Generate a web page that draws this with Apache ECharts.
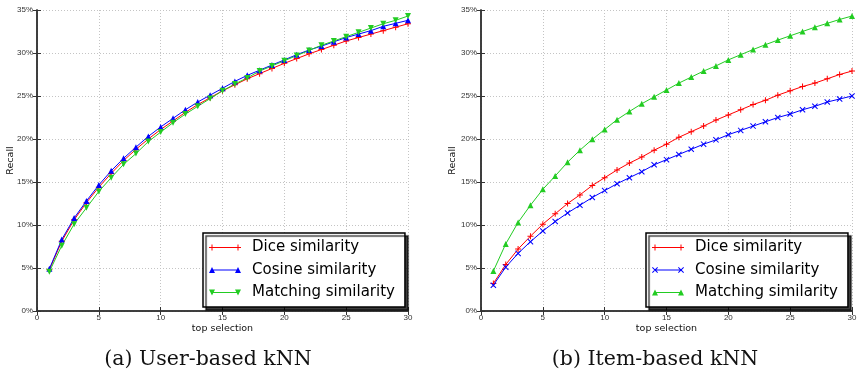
<!DOCTYPE html>
<html>
<head>
<meta charset="utf-8">
<script src="https://cdn.jsdelivr.net/npm/echarts@6/dist/echarts.min.js"></script>
<style>
  html, body { margin: 0; padding: 0; background: #fff; }
  #user-chart { position: absolute; left: 0; top: 0; width: 440px; height: 374px; }
  #item-chart { position: absolute; left: 440px; top: 0; width: 421px; height: 374px; }
</style>
</head>
<body>
<div id="user-chart"></div>
<div id="item-chart"></div>
<script>
const topSelection = [1, 2, 3, 4, 5, 6, 7, 8, 9, 10, 11, 12, 13, 14, 15, 16, 17, 18, 19, 20, 21, 22, 23, 24, 25, 26, 27, 28, 29, 30];
const xTicks = [0, 5, 10, 15, 20, 25, 30];
const yTicks = [0, 5, 10, 15, 20, 25, 30, 35];

// (a) user-based kNN, recall in %
const userDice = [4.8, 8.1, 10.6, 12.6, 14.4, 16.0, 17.5, 18.8, 20.0, 21.1, 22.1, 23.1, 24.0, 24.8, 25.6, 26.3, 27.0, 27.6, 28.2, 28.8, 29.35, 29.9, 30.4, 30.9, 31.4, 31.8, 32.2, 32.6, 33.0, 33.4];
const userCosine = [4.9, 8.3, 10.8, 12.8, 14.65, 16.3, 17.75, 19.05, 20.3, 21.4, 22.4, 23.4, 24.3, 25.1, 25.9, 26.7, 27.4, 28.0, 28.6, 29.2, 29.8, 30.35, 30.8, 31.3, 31.8, 32.2, 32.6, 33.1, 33.45, 33.8];
const userMatching = [4.57, 7.6, 10.1, 12.0, 13.9, 15.5, 17.05, 18.3, 19.7, 20.8, 21.9, 22.9, 23.8, 24.7, 25.6, 26.4, 27.1, 27.9, 28.5, 29.1, 29.7, 30.3, 30.9, 31.4, 31.9, 32.4, 32.9, 33.4, 33.8, 34.3];

// (b) item-based kNN, recall in %
const itemDice = [3.2, 5.4, 7.2, 8.7, 10.1, 11.3, 12.5, 13.5, 14.6, 15.5, 16.4, 17.2, 17.9, 18.7, 19.4, 20.2, 20.85, 21.5, 22.2, 22.8, 23.4, 24.0, 24.5, 25.1, 25.6, 26.1, 26.5, 27.0, 27.5, 27.9];
const itemCosine = [3.0, 5.1, 6.7, 8.06, 9.3, 10.4, 11.4, 12.3, 13.2, 14.0, 14.8, 15.5, 16.2, 17.0, 17.6, 18.2, 18.8, 19.4, 19.9, 20.5, 21.0, 21.5, 22.0, 22.5, 22.9, 23.4, 23.8, 24.3, 24.65, 25.0];
const itemMatching = [4.65, 7.8, 10.3, 12.3, 14.15, 15.7, 17.3, 18.7, 19.96, 21.1, 22.25, 23.2, 24.1, 24.9, 25.7, 26.5, 27.2, 27.9, 28.5, 29.2, 29.8, 30.4, 30.97, 31.5, 32.0, 32.5, 33.0, 33.45, 33.9, 34.3];

const RED = "#ff0000";
const BLUE = "#0000ff";
const GREEN = "#22cc22";

// marker shapes
const PLUS = "path://M2.5,0H3.5V6H2.5Z M0,2.5H6V3.5H0Z";
const CROSS = "path://M0,0.7L0.7,0L6,5.3L5.3,6Z M0,5.3L5.3,0L6,0.7L0.7,6Z";
// legend icons: marker - line - marker
const LINE = "M3,2.5H29V3.5H3Z";
const ICONS = {
  plus: "path://" + LINE + " M2.5,0H3.5V6H2.5Z M0,2.5H6V3.5H0Z M28.5,0H29.5V6H28.5Z M26,2.5H32V3.5H26Z",
  cross: "path://" + LINE + " M0,0.7L0.7,0L6,5.3L5.3,6Z M0,5.3L5.3,0L6,0.7L0.7,6Z M26,0.7L26.7,0L32,5.3L31.3,6Z M26,5.3L31.3,0L32,0.7L26.7,6Z",
  up: "path://" + LINE + " M0,6L3,0L6,6Z M26,6L29,0L32,6Z",
  down: "path://" + LINE + " M0,0L6,0L3,6Z M26,0L32,0L29,6Z",
};

const pairs = (ys) => topSelection.map((x, i) => [x, ys[i]]);

function makeSeries(name, ys, color, symbol, size, rotate) {
  return {
    name: name,
    type: "line",
    data: pairs(ys),
    symbol: symbol,
    symbolSize: size,
    symbolRotate: rotate || 0,
    lineStyle: { color: color, width: 1 },
    itemStyle: { color: color, borderWidth: 0 },
    emphasis: { disabled: true },
  };
}

function buildOption(cfg) {
  const frame = { show: true, lineStyle: { color: "#333", width: 1.5 } };
  const tick = { show: true, inside: true, length: 4, lineStyle: { color: "#333", width: 1 } };
  const grid = { color: "#c4c4c4", width: 1, type: [1, 2] };
  const labelFont = { fontFamily: "Liberation Sans", fontSize: 8, color: "#333" };
  return {
    animation: false,
    backgroundColor: "#ffffff",
    grid: { left: cfg.left, right: cfg.right, top: 10, bottom: 63, outerBoundsMode: "none", containLabel: false },
    xAxis: [
      {
        type: "value", min: 0, max: 30, interval: 5, position: "bottom",
        name: "top selection", nameLocation: "middle", nameGap: 13, nameMoveOverlap: false,
        nameTextStyle: { fontFamily: "DejaVu Sans", fontSize: 9.5, color: "#111" },
        axisLine: frame, axisTick: tick,
        axisLabel: Object.assign({ margin: 3 }, labelFont),
        splitLine: { show: true, lineStyle: grid },
      },
      {
        type: "value", min: 0, max: 30, interval: 5, position: "top",
        axisLine: frame, axisTick: tick, axisLabel: { show: false }, splitLine: { show: false },
      },
    ],
    yAxis: [
      {
        type: "value", min: 0, max: 35, interval: 5, position: "left",
        name: "Recall", nameLocation: "middle", nameGap: cfg.nameGap, nameRotate: 90, nameMoveOverlap: false,
        nameTextStyle: { fontFamily: "DejaVu Sans", fontSize: 9.5, color: "#111" },
        axisLine: frame, axisTick: tick,
        axisLabel: Object.assign({ margin: 4, formatter: (v) => v + "%" }, labelFont),
        splitLine: { show: true, lineStyle: grid },
      },
      {
        type: "value", min: 0, max: 35, interval: 5, position: "right",
        axisLine: frame, axisTick: tick, axisLabel: { show: false }, splitLine: { show: false },
      },
    ],
    legend: {
      orient: "vertical",
      left: cfg.legendLeft,
      top: 233,
      padding: [7, 10, 7, 6],
      itemGap: 7.5,
      itemWidth: 32,
      itemHeight: 6,
      selectedMode: false,
      data: cfg.legendData,
      itemStyle: { borderWidth: 0 },
      textStyle: { fontFamily: "DejaVu Sans", fontSize: 15, color: "#000", padding: [0, 0, 0, 6] },
      backgroundColor: "#ffffff",
      borderColor: "#000",
      borderWidth: 1.5,
      shadowColor: "rgba(0,0,0,0.75)",
      shadowBlur: 1,
      shadowOffsetX: 3,
      shadowOffsetY: 3,
    },
    graphic: [
      {
        type: "text", x: cfg.captionX, y: 360,
        style: {
          text: cfg.caption, textAlign: "center", textVerticalAlign: "middle",
          fontFamily: "DejaVu Serif", fontSize: 20.5, fill: "#111",
        },
      },
    ],
    series: cfg.series,
  };
}

const userChart = echarts.init(document.getElementById("user-chart"));
userChart.setOption(buildOption({
  left: 37, right: 32, nameGap: 21, legendLeft: 203, captionX: 208,
  caption: "(a) User-based kNN",
  legendData: [
    { name: "Dice similarity", icon: ICONS.plus },
    { name: "Cosine similarity", icon: ICONS.up },
    { name: "Matching similarity", icon: ICONS.down },
  ],
  series: [
    makeSeries("Dice similarity", userDice, RED, PLUS, 6),
    makeSeries("Cosine similarity", userCosine, BLUE, "triangle", 6),
    makeSeries("Matching similarity", userMatching, GREEN, "triangle", 6, 180),
  ],
}));

const itemChart = echarts.init(document.getElementById("item-chart"));
itemChart.setOption(buildOption({
  left: 41, right: 9, nameGap: 23, legendLeft: 206, captionX: 215,
  caption: "(b) Item-based kNN",
  legendData: [
    { name: "Dice similarity", icon: ICONS.plus },
    { name: "Cosine similarity", icon: ICONS.cross },
    { name: "Matching similarity", icon: ICONS.up },
  ],
  series: [
    makeSeries("Dice similarity", itemDice, RED, PLUS, 6),
    makeSeries("Cosine similarity", itemCosine, BLUE, CROSS, 6),
    makeSeries("Matching similarity", itemMatching, GREEN, "triangle", 6),
  ],
}));
</script>
</body>
</html>
